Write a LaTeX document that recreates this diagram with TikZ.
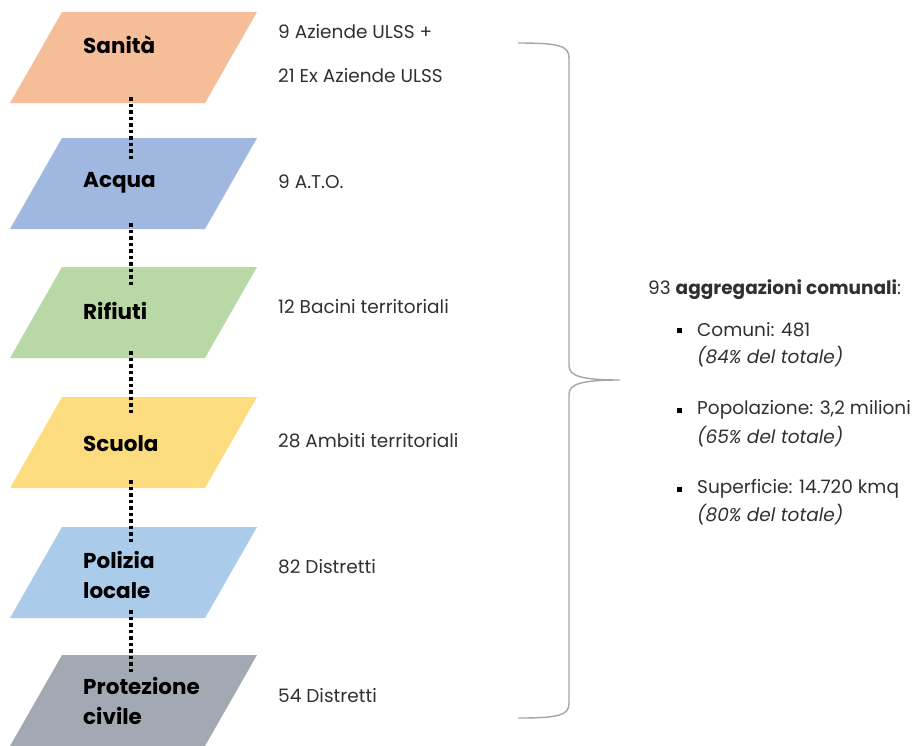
\documentclass[tikz,border=0pt]{standalone}
\usepackage{fontspec}
\setmainfont{Poppins}
\definecolor{csan}{HTML}{F5BE98}
\definecolor{cacq}{HTML}{A0B8E0}
\definecolor{crif}{HTML}{B8D8A6}
\definecolor{csc}{HTML}{FDDC80}
\definecolor{cpol}{HTML}{AACBEA}
\definecolor{cpro}{HTML}{A3A9B3}
\definecolor{txt}{HTML}{303030}
\definecolor{brace}{HTML}{A6A6A6}
\begin{document}
\begin{tikzpicture}[x=1pt,y=-1pt,
  lab/.style={anchor=west,inner sep=0pt,font=\fontsize{21.5}{30}\selectfont\bfseries,align=left,text=black},
  info/.style={anchor=west,inner sep=0pt,font=\fontsize{18.5}{22}\selectfont,text=txt},
  dots/.style={line width=3.5pt,dash pattern=on 3.5pt off 3pt,black},
  bul/.style={fill=black,minimum size=5pt,inner sep=0pt}]
\useasboundingbox (0,0) rectangle (920,745);
\foreach \t/\c in {12/csan,138/cacq,267/crif,397/csc,527/cpol,655/cpro}{
  \fill[\c] (62,\t) -- (257,\t) -- (205,\t+91) -- (10,\t+91) -- cycle;
}
\node[lab] (l1) at (83,45) {Sanità};
\node[lab] (l2) at (83,183) {Acqua};
\node[lab] (l3) at (83,311) {Rifiuti};
\node[lab] (l4) at (83,444) {Scuola};
\node[lab] (l5) at (83,575) {Polizia\\locale};
\node[lab] (l6) at (83,701) {Protezione\\civile};
\coordinate (a1) at (131,97);  \coordinate (b1) at (131,160);
\coordinate (a2) at (131,223); \coordinate (b2) at (131,288);
\coordinate (a3) at (131,351); \coordinate (b3) at (131,415);
\coordinate (a4) at (131,480); \coordinate (b4) at (131,543);
\coordinate (a5) at (131,610); \coordinate (b5) at (131,673);
\foreach \i in {1,...,5}{\draw[dots] (a\i) -- (b\i);}
\node[info] (r1) at (278,32) {9 Aziende ULSS +};
\node[info] (r2) at (278,76) {21 Ex Aziende ULSS};
\node[info] (r3) at (278,182) {9 A.T.O.};
\node[info] (r4) at (278,307) {12 Bacini territoriali};
\node[info] (r5) at (278,441) {28 Ambiti territoriali};
\node[info] (r6) at (278,567) {82 Distretti};
\node[info] (r7) at (278,696) {54 Distretti};
\draw[brace,line width=1.4pt]
  (518,43) .. controls (560,43) and (569,46) .. (569,58) -- (569,366)
  .. controls (569,376) and (582,380) .. (620,380)
  .. controls (582,380) and (569,384) .. (569,394) -- (569,703)
  .. controls (569,715) and (560,718) .. (518,718);
\node[info] (h) at (648,290) {93 \textbf{aggregazioni comunali}:};
\node[bul] (s1) at (679,330) {};
\node[bul] (s2) at (679,410) {};
\node[bul] (s3) at (679,489) {};
\node[info] (c1) at (697,330) {Comuni: 481};
\node[info] (c1b) at (697,357) {\itshape (84\% del totale)};
\node[info] (c2) at (697,410) {Popolazione: 3,2 milioni};
\node[info] (c2b) at (697,437) {\itshape (65\% del totale)};
\node[info] (c3) at (697,489) {Superficie: 14.720 kmq};
\node[info] (c3b) at (697,515) {\itshape (80\% del totale)};
\end{tikzpicture}
\end{document}
